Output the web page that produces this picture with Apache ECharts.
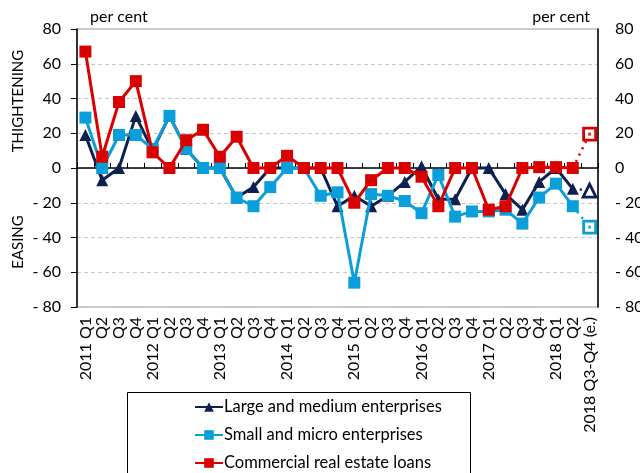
<!DOCTYPE html>
<html><head><meta charset="utf-8">
<script src="https://cdn.jsdelivr.net/npm/echarts@6/dist/echarts.min.js"></script>
<style>html,body{margin:0;padding:0;background:#fff}#c{width:640px;height:473px}</style>
</head><body><div id="c"></div>
<script>
const categories = ['2011 Q1','Q2','Q3','Q4','2012 Q1','Q2','Q3','Q4','2013 Q1','Q2','Q3','Q4','2014 Q1','Q2','Q3','Q4','2015 Q1','Q2','Q3','Q4','2016 Q1','Q2','Q3','Q4','2017 Q1','Q2','Q3','Q4','2018 Q1','Q2','2018 Q3-Q4 (e.)'];
const large = [19,-7,0,30,10,30,11,0,0,-17,-11,0,0,0,0,-22,-16,-22,-16,-8,1,-18,-18,0,0,-15,-24,-8,0,-12];
const small = [29,0,19,19,11,30,11,0,0,-17,-22,-11,0,0,-16,-14,-66,-15,-16,-19,-26,-4,-28,-25,-25,-24,-32,-17,-9,-22];
const realEstate = [67,6.5,38,50,9,0,16,22,6.5,18,0,0,7,0,0,0,-20,-7,0,0,-5,-22,0,0,-24,-22,0,0.5,0.5,0];
const estLarge = -13, estSmall = -34, estReal = 19.5;
const names = ['Large and medium enterprises','Small and micro enterprises','Commercial real estate loans'];
const colors = ['#0d2050','#0a9fdb','#da0000'];
const FONT = 'Lato';

function estData(arr, est){
  const d = categories.map(()=>null);
  d[arr.length-1] = {value: arr[arr.length-1], symbol:'none'};
  d[arr.length] = est;
  return d;
}
function dotData(est){
  const d = categories.map(()=>null);
  d[categories.length-1] = est;
  return d;
}
const fmt = v => v < 0 ? '- ' + (-v) : String(v);

const mainSeries = [large, small, realEstate].map((arr,i)=>({
  name: names[i], type:'line', data: arr, color: colors[i],
  symbol: i===0 ? 'triangle' : 'rect', symbolSize: 12,
  lineStyle:{width:3, color: colors[i]}, itemStyle:{color: colors[i]},
  z: 3+i, animation:false
}));
const estSeries = [[large,estLarge],[small,estSmall],[realEstate,estReal]].map(([arr,est],i)=>({
  type:'line', data: estData(arr,est),
  symbol: i===0 ? 'triangle' : 'rect', symbolSize: i===0 ? 13 : 12,
  lineStyle:{width:2.5, type:[2,5], color: colors[i]},
  itemStyle:{color:'#fff', borderColor: colors[i], borderWidth: 2.8},
  z: 3+i, animation:false
}));
const dotSeries = [estSmall, estReal].map((est,i)=>({
  type:'scatter', data: dotData(est), symbol:'rect', symbolSize:3,
  itemStyle:{color: colors[i+1]}, z: 10, animation:false
}));

const chart = echarts.init(document.getElementById('c'), null, {renderer:'canvas'});
chart.setOption({
  animation:false,
  textStyle:{fontFamily:FONT},
  grid:{left:77, right:42, top:29, bottom:166, show:true, borderColor:'#999', borderWidth:1, outerBoundsMode:'none', containLabel:false},
  legend:{
    data: names, orient:'vertical', left:194, top:398, padding:0, itemGap:10, itemWidth:28, itemHeight:12,
    textStyle:{fontFamily:FONT, fontSize:16.5, color:'#000', padding:[0,0,0,-4], lineHeight:18}
  },
  xAxis:[{
    type:'category', data: categories, boundaryGap:true,
    axisLine:{show:false}, axisTick:{show:false},
    axisLabel:{rotate:90, fontFamily:FONT, fontSize:16, color:'#000', margin:10, interval:0}
  },{
    type:'category', data: categories, boundaryGap:true,
    axisLine:{show:true, onZero:true, onZeroAxisIndex:0, lineStyle:{color:'#000', width:1.5}},
    axisTick:{show:true, length:5, lineStyle:{color:'#000'}, interval:0},
    axisLabel:{show:false}
  }],
  yAxis:[{
    type:'value', min:-80, max:80, interval:20, position:'left',
    axisLine:{show:true, lineStyle:{color:'#000', width:1.5}},
    axisTick:{show:true, length:6, lineStyle:{color:'#000'}},
    axisLabel:{formatter:fmt, fontFamily:FONT, fontSize:16, color:'#000', margin:16},
    splitLine:{show:true, lineStyle:{color:'#c8c8c8', type:[4,3], width:1.2}}
  },{
    type:'value', min:-80, max:80, interval:20, position:'right',
    axisLine:{show:true, lineStyle:{color:'#000', width:1.5}},
    axisTick:{show:false},
    axisLabel:{formatter:fmt, fontFamily:FONT, fontSize:16, color:'#000', margin:17},
    splitLine:{show:false}
  }],
  graphic:[
    {type:'rect', shape:{x:127.5, y:392.5, width:343, height:100}, style:{fill:'none', stroke:'#000', lineWidth:1}, z:-1},
    {type:'text', left:90, top:9, style:{text:'per cent', font:'16px '+FONT, fill:'#000'}},
    {type:'text', right:50, top:9, style:{text:'per cent', font:'16px '+FONT, fill:'#000'}},
    {type:'text', x:26, y:101, rotation:Math.PI/2, style:{text:'THIGHTENING', font:'15px '+FONT, fill:'#000', textAlign:'center', textVerticalAlign:'bottom'}},
    {type:'text', x:26, y:242, rotation:Math.PI/2, style:{text:'EASING', font:'15px '+FONT, fill:'#000', textAlign:'center', textVerticalAlign:'bottom'}}
  ],
  series:[...mainSeries, ...estSeries, ...dotSeries]
});
</script></body></html>
